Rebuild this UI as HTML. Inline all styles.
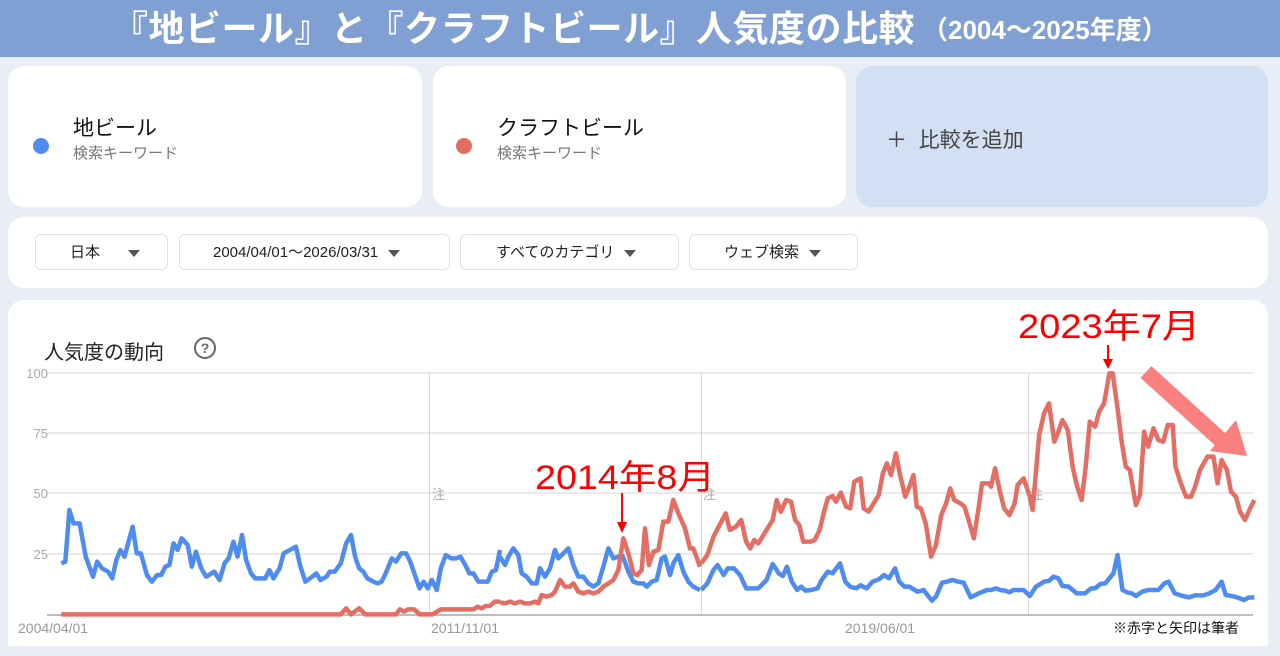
<!DOCTYPE html>
<html><head><meta charset="utf-8"><style>
body{margin:0;width:1280px;height:656px;background:#e9eef6;font-family:"Liberation Sans","Noto Sans CJK JP",sans-serif;position:relative;overflow:hidden}
.abs{position:absolute}
.card{position:absolute;background:#fff;border-radius:16px}
.chip{position:absolute;top:234px;height:36px;border:1px solid #dde1e6;border-radius:6px;background:#fff;font-size:15px;color:#222;line-height:36px;box-sizing:border-box}
.tri{display:inline-block;width:0;height:0;border-left:6px solid transparent;border-right:6px solid transparent;border-top:7px solid #555;vertical-align:middle;margin-left:10px}
</style></head><body>
<div class="abs" style="left:0;top:0;width:1280px;height:57px;background:#80a0d3"></div>
<div class="abs" style="left:112px;top:0;color:#fff;font-weight:bold;font-size:36px;line-height:57px;white-space:nowrap;letter-spacing:0.5px">『地ビール』と『クラフトビール』人気度の比較</div>
<div class="abs" style="left:922px;top:2px;color:#fff;font-weight:bold;font-size:26px;line-height:57px;white-space:nowrap">（2004～2025年度）</div>
<div class="card" style="left:8px;top:66px;width:414px;height:141px">
 <div class="abs" style="left:25px;top:72px;width:16px;height:16px;border-radius:50%;background:#4f8cf0"></div>
 <div class="abs" style="left:65px;top:46px;font-size:21px;color:#111">地ビール</div>
 <div class="abs" style="left:65px;top:76px;font-size:15px;color:#777">検索キーワード</div>
</div>
<div class="card" style="left:433px;top:66px;width:413px;height:141px">
 <div class="abs" style="left:23px;top:72px;width:16px;height:16px;border-radius:50%;background:#e46d64"></div>
 <div class="abs" style="left:64px;top:46px;font-size:21px;color:#111">クラフトビール</div>
 <div class="abs" style="left:64px;top:76px;font-size:15px;color:#777">検索キーワード</div>
</div>
<div class="card" style="left:856px;top:66px;width:412px;height:141px;background:#d3e0f3">
 <div class="abs" style="left:30px;top:58px;font-size:21px;color:#444">＋&nbsp;&nbsp;比較を追加</div>
</div>
<div class="card" style="left:8px;top:217px;width:1260px;height:71px"></div>
<div class="chip" style="left:35px;width:133px;padding-left:34px">日本<span class="tri" style="margin-left:28px"></span></div>
<div class="chip" style="left:179px;width:271px;padding-left:33px">2004/04/01～2026/03/31<span class="tri"></span></div>
<div class="chip" style="left:460px;width:219px;padding-left:35px">すべてのカテゴリ<span class="tri"></span></div>
<div class="chip" style="left:689px;width:169px;padding-left:34px">ウェブ検索<span class="tri"></span></div>
<div class="card" style="left:8px;top:300px;width:1260px;height:346px;border-radius:16px 16px 0 0"></div>
<div class="abs" style="left:44px;top:336px;font-size:20px;color:#222">人気度の動向</div>
<div class="abs" style="left:194px;top:337px;width:18px;height:18px;border:2px solid #666;border-radius:50%;text-align:center;font-size:14px;line-height:18px;color:#666;font-weight:bold">?</div>
<svg class="abs" style="left:0;top:0" width="1280" height="656">
<g stroke="#e3e3e3" stroke-width="1.5">
<line x1="47" y1="373" x2="1253" y2="373"/><line x1="47" y1="433" x2="1253" y2="433"/><line x1="47" y1="493" x2="1253" y2="493"/><line x1="47" y1="554" x2="1253" y2="554"/>
</g>
<g stroke="#d6d6d6" stroke-width="1"><line x1="429.5" y1="373" x2="429.5" y2="614"/><line x1="701.5" y1="373" x2="701.5" y2="614"/><line x1="1028.5" y1="373" x2="1028.5" y2="614"/></g>
<line x1="47" y1="615" x2="1253" y2="615" stroke="#bdbdbd" stroke-width="2"/>
<g font-size="13" fill="#aaa" text-anchor="end" font-family="Liberation Sans"><text x="48" y="378">100</text><text x="48" y="438">75</text><text x="48" y="498">50</text><text x="48" y="559">25</text></g>
<g font-size="14" fill="#999" font-family="Liberation Sans"><text x="18" y="633">2004/04/01</text><text x="431" y="633">2011/11/01</text><text x="845" y="633">2019/06/01</text></g>
<g font-size="13" fill="#aaa" font-family="Noto Sans CJK JP,sans-serif"><text x="432" y="499">注</text><text x="703" y="499">注</text><text x="1030" y="499">注</text></g>
<text x="1113" y="633" font-size="14" fill="#111" font-family="Noto Sans CJK JP,sans-serif">※赤字と矢印は筆者</text>
<g fill="none" stroke-linejoin="round" stroke-width="4.5">
<g transform="translate(0,360) scale(0.40816,0.33333)">
<polyline vector-effect="non-scaling-stroke" stroke="#4f8cf0" points="150,610 160,605 170,450 180,490 195,490 210,590 228,650 238,605 250,625 265,635 275,655 285,600 295,570 305,590 325,500 335,580 345,580 360,645 372,665 385,645 395,645 405,620 415,615 425,550 435,570 445,535 460,555 470,620 480,575 493,625 505,650 525,635 538,660 550,610 560,595 572,545 582,590 593,525 603,600 615,640 625,655 650,655 660,630 670,655 685,625 695,580 725,560 735,615 748,665 765,650 775,640 785,660 800,650 808,635 820,635 835,610 848,550 860,525 870,590 880,625 890,635 900,655 915,665 925,670 935,665 945,640 960,595 970,605 983,580 995,580 1005,605 1015,640 1028,685 1038,665 1048,685 1058,660 1070,690 1080,625 1092,585 1105,595 1118,595 1128,590 1140,615 1150,640 1160,640 1172,665 1195,665 1205,635 1215,630 1225,570"/>
<polyline vector-effect="non-scaling-stroke" stroke="#e46d64" points="150,763 835,763 848,745 860,763 880,745 895,763 970,763 980,748 990,755 1000,748 1015,748 1028,763 1060,763 1080,748 1160,748 1170,740 1180,745 1190,738 1200,738 1212,725 1225,725"/>
</g>
<g transform="translate(500,440) scale(0.33333)">
<polyline vector-effect="non-scaling-stroke" stroke="#4f8cf0" points="0,350 15,375 25,350 40,325 55,345 65,400 80,410 95,430 110,430 120,385 135,410 150,385 165,330 175,355 190,340 205,325 220,375 235,410 250,410 265,430 280,440 295,430 310,380 325,325 340,355 355,350 368,348 385,395 400,425 415,430 430,430 440,440 455,425 470,420 485,355 495,350 510,405 520,370 535,345 550,395 565,425 580,440 600,450"/>
<polyline vector-effect="non-scaling-stroke" stroke="#e46d64" points="0,487 15,490 30,485 45,490 60,485 75,490 90,490 105,485 115,490 125,465 140,470 155,465 165,455 180,420 195,440 210,440 220,430 235,455 250,460 265,455 280,460 295,455 310,440 325,430 340,420 355,390 370,295 385,340 400,400 412,405 425,390 435,265 447,375 460,335 475,330 490,245 505,245 520,180 535,220 555,265 570,325 580,325 600,380"/>
</g>
<g transform="translate(640,360) scale(0.40816,0.33333)">
<polyline vector-effect="non-scaling-stroke" stroke="#4f8cf0" points="150,690 165,670 180,630 190,615 205,645 215,625 230,625 245,645 260,685 290,685 310,660 325,612 340,640 350,648 360,620 372,665 385,690 395,680 405,692 420,690 435,685 445,660 460,635 472,640 490,610 503,665 515,680 530,685 540,676 555,685 570,665 585,658 598,645 610,655 625,625 635,665 648,680 660,680 680,695 695,690 715,722 725,710 740,668 752,665 765,660 780,665 793,668 810,712 830,700 850,690 860,690 872,685 882,690 895,692 905,697 915,690 940,690 955,708 970,680 990,665 1003,662 1013,650 1025,655 1035,678 1050,680 1070,700 1090,700 1105,685 1115,685 1128,672 1140,670 1160,640 1170,585 1182,690 1195,698 1205,700 1215,708 1230,695 1245,690 1270,690 1285,670 1295,665 1310,700 1330,708 1345,712 1360,706 1380,706 1395,700 1410,690 1425,665 1435,705 1450,708 1465,713 1480,720 1490,713 1505,712"/>
<polyline vector-effect="non-scaling-stroke" stroke="#e46d64" points="150,610 165,585 180,530 210,460 220,510 235,500 248,480 260,545 270,565 280,540 290,550 310,510 325,480 335,420 345,455 358,420 370,425 380,480 390,495 400,545 418,545 428,540 440,510 450,460 460,415 472,408 480,425 492,398 505,440 515,445 525,365 540,355 548,445 560,455 575,425 585,405 595,340 605,310 615,345 627,280 637,345 650,410 660,380 670,345 678,440 688,445 700,490 713,590 725,555 738,465 750,430 760,385 770,420 785,430 795,440 805,480 818,535 830,440 838,370 855,370 860,380 870,325 880,385 892,445 905,465 918,430 925,375 940,355 955,410 962,450 978,225 990,160 1002,130 1015,245 1025,215 1035,180 1048,210 1060,320 1070,375 1082,420 1092,320 1102,185 1115,200 1125,155 1137,130 1150,40 1158,40 1170,145 1180,245 1190,320 1200,330 1215,435 1225,405 1235,215 1245,260 1258,205 1270,240 1282,245 1293,195 1305,195 1312,320 1325,370 1338,410 1350,410 1360,380 1372,330 1390,290 1405,290 1415,370 1425,300 1438,330 1448,395 1460,410 1470,455 1482,480 1493,450 1505,420"/>
</g>
</g>
<line x1="1146" y1="372" x2="1222" y2="441" stroke="#fa7f7f" stroke-width="16"/>
<polygon points="1210,451 1247,456 1236,420" fill="#fa7f7f"/>
<line x1="622" y1="493" x2="622" y2="524" stroke="#f00" stroke-width="2"/><polygon points="617,522 627,522 622,533" fill="#f00"/>
<line x1="1108" y1="345" x2="1108" y2="360" stroke="#f00" stroke-width="2"/><polygon points="1103,359 1113,359 1108,369" fill="#f00"/>
<g fill="#f00" font-size="34" font-family="Liberation Sans,Noto Sans CJK JP,sans-serif"><text x="535" y="489" textLength="180" lengthAdjust="spacingAndGlyphs">2014年8月</text><text x="1018" y="338" textLength="182" lengthAdjust="spacingAndGlyphs">2023年7月</text></g>
</svg>
</body></html>
